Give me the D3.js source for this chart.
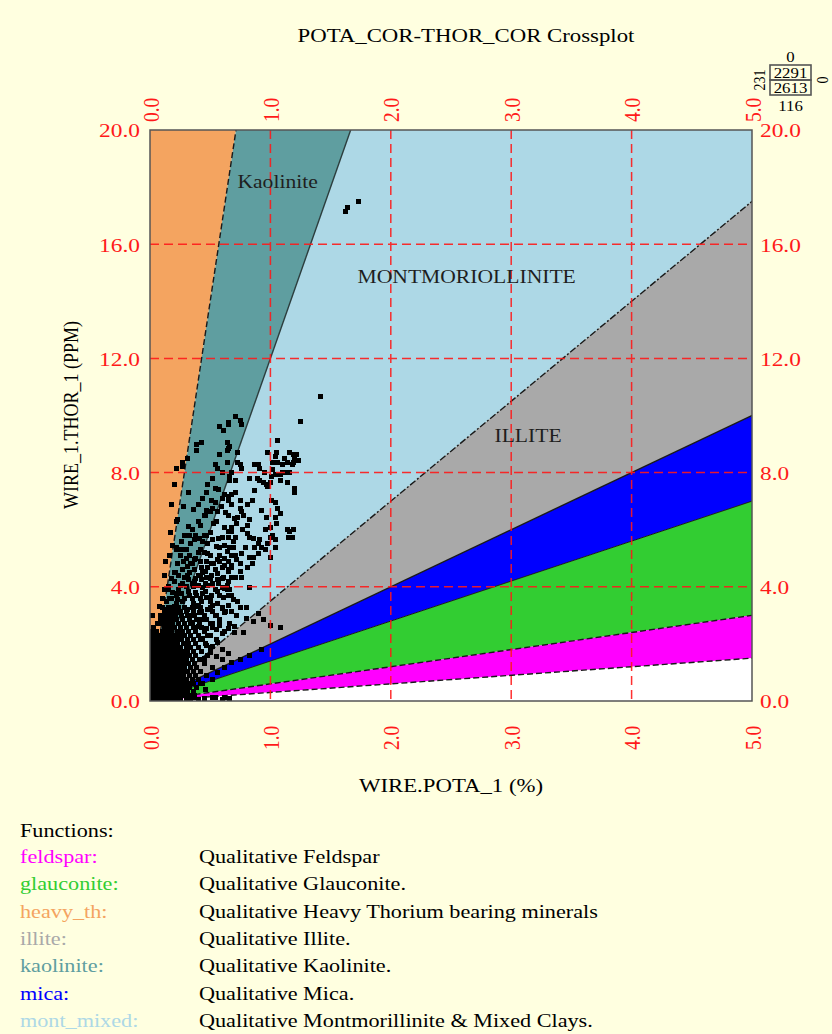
<!DOCTYPE html>
<html>
<head>
<meta charset="utf-8">
<script src="https://cdn.jsdelivr.net/npm/d3@7"></script>
<style>
  html, body { margin: 0; padding: 0; background: #FFFFE0; }
  svg { display: block; font-family: "Liberation Serif", "Times New Roman", serif; }
</style>
</head>
<body>
<svg id="chart" width="832" height="1034"></svg>
<script>
// ---- axis ticks ----
const potaTicks = [0, 1, 2, 3, 4, 5];          // WIRE.POTA_1 (%)
const thorTicks = [0, 4, 8, 12, 16, 20];       // WIRE_1.THOR_1 (PPM)

// ---- mineral zones, bounded by Th/K ratio lines through the origin ----
const zoneNames  = ["heavy_th", "kaolinite", "mont_mixed", "illite", "mica", "glauconite", "feldspar", "none"];
const zoneColors = ["#F4A460", "#5F9EA0", "#ADD8E6", "#A9A9A9", "#0000FF", "#32CD32", "#FF00FF", "#FFFFFF"];
// Th/K ratio of each zone boundary, from steepest to flattest
const boundaryRatios = [Infinity, 28, 12, 3.5, 2, 1.4, 0.6, 0.3, 0];
const boundaryDash   = [null, "6,3", null, "7,2,2,2", null, null, "6,3", "6,3", null];

// ---- zone captions inside the plot (K %, Th ppm) ----
const zoneCaptions = ["Kaolinite", "MONTMORIOLLINITE", "ILLITE"];
const captionK  = [1.06, 2.63, 3.14];
const captionTh = [18.2, 14.85, 9.3];

// ---- quadrant counts shown at the top right ----
const countTop = 0, countUpper = 2291, countLower = 2613, countBottom = 116, countLeft = 231, countRight = 0;

// ---- legend ----
const legendNames = ["feldspar:", "glauconite:", "heavy_th:", "illite:", "kaolinite:", "mica:", "mont_mixed:"];
const legendColors = ["#FF00FF", "#32CD32", "#F4A460", "#A9A9A9", "#5F9EA0", "#0000FF", "#ADD8E6"];
const legendText = [
  "Qualitative Feldspar",
  "Qualitative Glauconite.",
  "Qualitative Heavy Thorium bearing minerals",
  "Qualitative Illite.",
  "Qualitative Kaolinite.",
  "Qualitative Mica.",
  "Qualitative Montmorillinite & Mixed Clays."
];

// ---- samples: [POTA %, THOR ppm] ----
// isolated high-thorium readings
const outlierSamples = [
  [1.62, 17.13], [1.64, 17.27], [1.73, 17.48], [1.42, 10.65], [1.25, 9.79], [1.06, 9.12]
];
// upper branch, Th 6.3 - 10
const upperSamples = [
  [0.98, 8.72], [1.05, 8.72], [1.04, 8.55], [1.02, 8.37], [1.06, 8.34], [1.10, 8.27], [1.14, 8.37],
  [1.19, 8.62], [1.22, 8.62], [1.20, 8.51], [1.23, 8.44], [1.19, 8.37], [1.18, 8.27], [1.16, 8.02],
  [1.14, 7.99], [1.10, 8.02], [1.08, 7.92], [1.04, 7.92], [1.01, 7.85], [1.00, 7.67], [0.98, 7.50],
  [0.97, 7.57], [0.94, 7.67], [0.91, 7.74], [0.89, 7.81], [0.83, 7.81], [0.90, 8.27], [0.87, 8.27],
  [0.91, 8.16], [0.73, 8.37], [0.75, 8.27], [0.76, 8.16], [0.68, 8.02], [0.66, 7.74], [0.71, 7.74],
  [0.71, 7.32], [0.68, 7.22], [0.65, 7.04], [0.75, 7.04], [0.85, 7.04], [1.08, 7.74], [1.14, 7.67],
  [1.20, 7.46], [1.20, 7.32], [1.01, 7.04], [1.04, 6.94], [1.06, 6.76], [0.71, 9.95], [0.75, 9.84],
  [0.76, 9.67], [0.65, 9.74], [0.66, 8.90], [0.64, 8.79], [0.73, 8.69],
  [0.58, 9.60], [0.61, 9.49], [0.65, 9.67], [0.43, 9.07], [0.39, 8.97], [0.39, 8.79], [0.64, 9.04],
  [0.65, 8.86], [0.58, 8.62], [0.54, 8.27], [0.64, 8.37], [0.27, 8.37], [0.31, 8.51], [0.22, 8.16],
  [0.27, 8.20], [0.56, 8.16], [0.60, 8.02], [0.66, 7.85], [0.54, 6.94], [0.60, 7.11], [0.65, 7.15],
  [0.47, 7.32], [0.54, 7.46], [0.62, 7.22], [0.51, 7.04], [0.81, 6.87], [0.87, 7.39], [0.93, 6.69],
  [0.56, 6.62], [0.65, 6.51], [0.83, 6.34],
  [0.40, 6.90], [0.44, 7.10], [0.48, 7.60], [0.52, 7.80], [0.57, 7.40], [0.59, 6.80], [0.63, 6.60],
  [0.68, 6.90], [0.70, 6.40], [0.55, 6.30], [0.45, 6.50], [0.32, 7.30], [0.28, 6.80], [0.18, 6.90],
  [0.20, 7.60], [1.12, 8.50], [1.16, 8.70], [1.02, 8.10], [0.95, 8.00]
];
// middle branch, Th 3.3 - 6.8
const middleSamples = [
  [0.47, 6.69], [0.50, 6.62], [0.46, 6.51], [0.52, 6.76], [0.23, 6.34], [0.22, 6.27], [0.19, 5.46],
  [0.22, 5.36], [0.29, 4.34], [0.32, 4.24], [0.35, 4.13], [0.37, 4.17], [0.23, 3.78], [0.22, 3.71],
  [0.25, 4.06], [0.43, 4.66], [0.46, 4.52], [0.48, 4.69], [0.51, 4.83], [0.54, 4.59], [0.56, 4.48],
  [0.60, 4.66], [0.62, 4.76], [0.65, 4.87], [0.68, 5.11], [0.64, 5.22], [0.58, 5.11], [0.56, 4.94],
  [0.51, 4.41], [0.47, 4.34], [0.43, 4.24], [0.40, 4.06], [0.44, 3.99], [0.48, 4.06], [0.52, 4.13],
  [0.56, 4.24], [0.61, 4.34], [0.65, 4.52], [0.68, 4.66], [0.64, 4.06], [0.60, 3.96], [0.56, 3.82],
  [0.51, 3.71], [0.47, 3.61], [0.43, 3.47], [0.40, 3.36], [0.39, 3.71], [0.44, 3.78], [0.66, 3.89],
  [0.68, 4.31], [0.62, 5.46], [0.60, 5.71], [0.65, 5.74], [0.68, 5.92], [0.62, 6.06], [0.58, 5.36],
  [0.69, 5.39], [0.50, 3.47], [0.56, 3.43], [0.61, 3.61], [0.65, 3.71], [0.69, 3.54],
  [0.75, 6.76], [0.76, 6.62], [0.73, 6.44], [1.06, 6.76], [1.08, 6.58], [1.04, 6.41], [1.05, 6.23],
  [0.97, 6.44], [0.96, 5.99], [1.00, 6.06], [1.02, 5.81], [0.91, 5.64], [0.90, 5.53], [0.83, 5.71],
  [0.81, 5.88], [0.81, 6.16], [0.77, 5.99], [0.68, 6.06], [0.65, 5.92], [0.71, 5.71], [0.69, 5.57],
  [0.66, 5.39], [0.64, 5.22], [0.71, 5.11], [0.76, 5.18], [0.79, 5.36], [0.83, 5.01], [0.85, 4.83],
  [0.81, 4.69], [0.75, 4.83], [0.72, 4.94], [0.68, 4.76], [0.65, 4.59], [0.75, 4.52], [0.76, 4.34],
  [0.71, 4.31], [0.65, 4.17], [0.83, 3.99], [0.64, 3.89], [0.68, 3.71], [0.69, 3.54], [0.73, 3.47],
  [0.75, 3.26], [0.65, 3.36], [1.14, 5.99], [1.16, 5.92], [1.19, 5.99], [1.15, 5.74], [1.18, 5.71],
  [1.04, 5.36], [0.96, 5.29], [0.90, 5.18], [0.86, 5.04], [1.00, 5.71], [0.98, 5.53], [0.87, 5.36],
  [0.93, 5.39], [1.04, 5.64], [1.00, 5.01],
  [0.42, 6.16], [0.47, 5.81], [0.52, 5.64], [0.37, 5.64], [0.42, 5.29], [0.48, 5.18], [0.33, 5.11],
  [0.37, 4.94], [0.36, 6.70], [0.40, 6.30], [0.33, 5.80], [0.41, 5.70], [0.30, 5.00], [0.35, 4.80],
  [0.27, 4.60], [0.12, 4.40], [0.15, 3.90], [0.10, 3.60], [0.08, 3.30], [0.13, 4.90], [0.17, 5.90],
  [0.30, 5.30], [0.34, 5.50], [0.38, 5.00], [0.42, 4.90], [0.45, 5.20], [0.48, 5.50], [0.33, 4.50],
  [0.37, 4.60], [0.40, 4.40], [0.44, 4.50], [0.47, 4.90], [0.28, 4.90],
  [0.15, 4.00], [0.18, 3.60], [0.20, 4.20], [0.24, 3.90], [0.27, 3.50], [0.30, 4.00], [0.33, 3.70],
  [0.22, 3.40], [0.14, 3.50], [0.36, 3.40],
  [0.20, 4.50], [0.23, 4.80], [0.25, 5.10], [0.22, 5.30], [0.26, 5.60], [0.29, 5.80], [0.32, 6.10],
  [0.35, 6.00], [0.38, 5.80], [0.44, 5.60], [0.50, 5.90], [0.53, 6.20], [0.55, 5.40], [0.50, 5.10],
  [0.53, 4.80], [0.58, 4.90], [0.62, 5.00], [0.60, 4.30], [0.57, 4.10], [0.50, 4.30], [0.46, 4.10],
  [0.42, 4.40], [0.38, 4.30], [0.36, 4.00], [0.31, 4.40], [0.27, 4.10], [0.34, 4.80], [0.31, 4.70],
  [0.16, 5.10], [0.21, 4.50], [0.12, 3.90], [0.18, 4.30], [0.24, 4.40], [0.26, 5.30], [0.40, 5.20],
  [0.45, 5.80], [0.57, 5.70], [0.72, 6.20], [0.78, 6.50], [0.86, 5.70]
];
// Th 1.3 - 4 band, spreading right across the zone boundaries
const bandSamples = [
  [0.10, 2.90], [0.13, 3.20], [0.17, 3.00], [0.20, 3.30], [0.24, 3.10], [0.27, 2.90], [0.31, 3.20],
  [0.34, 3.00], [0.38, 3.30], [0.41, 3.10], [0.45, 2.90], [0.48, 3.20], [0.55, 3.00], [0.58, 2.80],
  [0.62, 3.10], [0.16, 3.60], [0.19, 3.80], [0.23, 3.55], [0.26, 3.75], [0.29, 3.60], [0.32, 3.85],
  [0.35, 3.60], [0.38, 3.80], [0.42, 3.60], [0.46, 3.85], [0.50, 3.60], [0.54, 3.90], [0.58, 3.70],
  [0.62, 3.95], [0.50, 2.30], [0.55, 2.50], [0.60, 2.35], [0.65, 2.55], [0.70, 2.40], [0.58, 2.65],
  [0.52, 2.70], [0.47, 2.55], [0.45, 1.50], [0.50, 1.70], [0.55, 1.55], [0.60, 1.80], [0.65, 1.65],
  [0.52, 1.90], [0.47, 1.95], [0.56, 2.05], [0.44, 2.20], [0.40, 2.60], [0.35, 2.75], [0.43, 2.85],
  [0.52, 3.35], [0.60, 3.25], [0.68, 3.15], [0.09, 3.00], [0.07, 2.70]
];
// readings spilling into the illite, mica, glauconite and feldspar zones
const lowRatioSamples = [
  [0.90, 3.05], [0.94, 2.84], [1.00, 2.66], [1.08, 2.56], [0.80, 2.90], [0.86, 2.80], [0.70, 2.60],
  [0.78, 2.40], [0.56, 1.00], [0.62, 1.19], [0.68, 1.36], [0.75, 1.44], [0.83, 1.61], [0.93, 1.79],
  [0.42, 0.63], [0.52, 0.74], [0.46, 0.39], [0.29, 0.21], [0.37, 0.14], [0.54, 0.14], [0.62, 0.14],
  [0.45, 0.08], [0.52, 0.12], [0.60, 0.06], [0.66, 0.10]
];
// dense low-K core: each row is [THOR, list of POTA readings at that level]
const coreRows = [
  [0.05, [0.01, 0.04, 0.07, 0.10, 0.13, 0.16, 0.19, 0.22, 0.25, 0.30, 0.34, 0.40]],
  [0.18, [0.01, 0.04, 0.07, 0.10, 0.13, 0.16, 0.19, 0.22, 0.26, 0.29, 0.33, 0.37]],
  [0.32, [0.02, 0.05, 0.08, 0.11, 0.14, 0.17, 0.20, 0.23, 0.27, 0.31, 0.36]],
  [0.46, [0.01, 0.04, 0.07, 0.10, 0.13, 0.16, 0.19, 0.22, 0.25, 0.29, 0.33, 0.39]],
  [0.60, [0.02, 0.05, 0.08, 0.11, 0.14, 0.17, 0.20, 0.24, 0.28, 0.32, 0.36, 0.44]],
  [0.74, [0.01, 0.04, 0.07, 0.10, 0.13, 0.16, 0.20, 0.23, 0.26, 0.30, 0.35, 0.40]],
  [0.88, [0.02, 0.05, 0.08, 0.11, 0.14, 0.17, 0.21, 0.25, 0.28, 0.33, 0.38, 0.47]],
  [1.02, [0.01, 0.04, 0.07, 0.10, 0.13, 0.17, 0.20, 0.24, 0.27, 0.31, 0.36, 0.42]],
  [1.16, [0.02, 0.05, 0.08, 0.11, 0.15, 0.18, 0.22, 0.25, 0.29, 0.34, 0.39, 0.52]],
  [1.30, [0.01, 0.04, 0.07, 0.11, 0.14, 0.17, 0.21, 0.24, 0.28, 0.32, 0.37, 0.45]],
  [1.44, [0.02, 0.05, 0.09, 0.12, 0.15, 0.19, 0.22, 0.26, 0.30, 0.35, 0.41, 0.60]],
  [1.58, [0.01, 0.04, 0.07, 0.10, 0.14, 0.17, 0.21, 0.25, 0.29, 0.33, 0.38, 0.48]],
  [1.72, [0.02, 0.05, 0.08, 0.12, 0.16, 0.19, 0.23, 0.27, 0.31, 0.36, 0.43]],
  [1.86, [0.01, 0.04, 0.07, 0.10, 0.14, 0.18, 0.21, 0.25, 0.30, 0.34, 0.40, 0.50]],
  [2.00, [0.02, 0.05, 0.09, 0.12, 0.16, 0.20, 0.23, 0.28, 0.32, 0.38, 0.46]],
  [2.14, [0.01, 0.04, 0.08, 0.11, 0.15, 0.18, 0.22, 0.26, 0.31, 0.36, 0.42, 0.55]],
  [2.28, [0.02, 0.06, 0.09, 0.13, 0.17, 0.21, 0.25, 0.29, 0.34, 0.40, 0.48]],
  [2.42, [0.01, 0.05, 0.10, 0.14, 0.18, 0.23, 0.27, 0.32, 0.38, 0.45, 0.62]],
  [2.56, [0.03, 0.12, 0.16, 0.20, 0.25, 0.30, 0.36, 0.43, 0.52]],
  [2.70, [0.06, 0.11, 0.15, 0.19, 0.24, 0.29, 0.34, 0.41, 0.50, 0.66]],
  [2.84, [0.09, 0.14, 0.18, 0.22, 0.27, 0.33, 0.39, 0.47, 0.58]],
  [2.98, [0.02, 0.13, 0.17, 0.21, 0.26, 0.31, 0.37, 0.45, 0.54, 0.72]],
  [3.12, [0.12, 0.16, 0.20, 0.25, 0.30, 0.36, 0.43, 0.52, 0.63]],
  [3.26, [0.10, 0.15, 0.19, 0.24, 0.29, 0.35, 0.42, 0.50, 0.60, 0.80]]
];

const samples = outlierSamples
  .concat(upperSamples, middleSamples, bandSamples, lowRatioSamples,
          coreRows.flatMap(([th, ks]) => ks.map(k => [k, th])));

// ---- layout ----
const W = 832, H = 1034;
const plot = { left: 150, right: 752, top: 130, bottom: 701 };
const SX = 1.2;                 // horizontal stretch of all lettering
const RED = "#FF1A1A";

const svg = d3.select("#chart");
const x = d3.scaleLinear().domain([0, 5]).range([plot.left, plot.right]);
const y = d3.scaleLinear().domain([0, 20]).range([plot.bottom, plot.top]);

svg.append("rect").attr("width", W).attr("height", H).attr("fill", "#FFFFE0");

const defs = svg.append("defs");
defs.append("clipPath").attr("id", "plotClip")
  .append("rect")
  .attr("x", plot.left).attr("y", plot.top)
  .attr("width", plot.right - plot.left).attr("height", plot.bottom - plot.top);

const inner = svg.append("g").attr("clip-path", "url(#plotClip)");

// direction of a Th/K ratio line in data units, extended far past the frame
const FAR = 1000;
function farPoint(r) {
  if (r === Infinity) return [0, FAR];
  const len = Math.hypot(1, r);
  return [FAR / len, FAR * r / len];
}

// zones
inner.selectAll("path.zone")
  .data(zoneNames.map((n, i) => ({ n, i })))
  .join("path")
  .attr("class", "zone")
  .attr("fill", d => zoneColors[d.i])
  .attr("d", d => {
    const a = farPoint(boundaryRatios[d.i]);
    const b = farPoint(boundaryRatios[d.i + 1]);
    return d3.line()([[x(0), y(0)], [x(a[0]), y(a[1])], [x(b[0]), y(b[1])]]) + "Z";
  });

// boundary lines between zones
const innerBounds = boundaryRatios.map((r, i) => ({ r, i })).filter(d => d.r !== Infinity && d.r !== 0);
inner.selectAll("line.bound")
  .data(innerBounds)
  .join("line")
  .attr("class", "bound")
  .attr("x1", x(0)).attr("y1", y(0))
  .attr("x2", d => x(farPoint(d.r)[0]))
  .attr("y2", d => y(farPoint(d.r)[1]))
  .attr("stroke", d => d.r === 12 ? "#2b3d3d" : "#1a1a1a")
  .attr("stroke-width", d => (d.r === 1.4 ? 1 : 1.4))
  .attr("stroke-dasharray", d => boundaryDash[d.i]);

// grid
const grid = svg.append("g").attr("stroke", RED).attr("stroke-width", 1.5)
  .attr("stroke-dasharray", "9,5").attr("opacity", 0.9);
grid.selectAll("line.gx").data(potaTicks.slice(1, -1)).join("line")
  .attr("x1", d => x(d)).attr("x2", d => x(d))
  .attr("y1", plot.top).attr("y2", plot.bottom);
grid.selectAll("line.gy").data(thorTicks.slice(1, -1)).join("line")
  .attr("y1", d => y(d)).attr("y2", d => y(d))
  .attr("x1", plot.left).attr("x2", plot.right);

// samples
const PT = 5;
inner.append("g").attr("shape-rendering", "crispEdges").selectAll("rect")
  .data(samples)
  .join("rect")
  .attr("x", d => Math.round(x(d[0]) - PT / 2))
  .attr("y", d => Math.round(y(d[1]) - PT / 2))
  .attr("width", PT).attr("height", PT)
  .attr("fill", "#000");

// zone captions
svg.append("g").selectAll("g")
  .data(zoneCaptions.map((t, i) => ({ t, i })))
  .join("g")
  .attr("transform", d => `translate(${x(captionK[d.i])},${y(captionTh[d.i])}) scale(${SX},1)`)
  .append("text")
  .attr("text-anchor", "middle").attr("dy", "0.35em")
  .attr("font-size", 18).attr("fill", "#1e1e1e")
  .text(d => d.t);

// frame
svg.append("rect")
  .attr("x", plot.left).attr("y", plot.top)
  .attr("width", plot.right - plot.left).attr("height", plot.bottom - plot.top)
  .attr("fill", "none").attr("stroke", "#555").attr("stroke-width", 1.5);

// axes
const fmt = d3.format(".1f");
function styleAxis(g) {
  g.select(".domain").remove();
  g.selectAll(".tick line").remove();
  g.selectAll("text").attr("fill", RED).attr("font-size", 19.5)
    .attr("font-family", "Liberation Serif, Times New Roman, serif");
}
svg.append("g").attr("transform", `translate(${plot.left},0)`)
  .call(d3.axisLeft(y).tickValues(thorTicks).tickFormat(fmt).tickSize(0))
  .call(styleAxis)
  .call(g => g.selectAll("text").attr("x", -10 / SX).attr("dy", "0.35em")
    .attr("transform", `scale(${SX},1)`).attr("text-anchor", "end"));
svg.append("g").attr("transform", `translate(${plot.right},0)`)
  .call(d3.axisRight(y).tickValues(thorTicks).tickFormat(fmt).tickSize(0))
  .call(styleAxis)
  .call(g => g.selectAll("text").attr("x", 8 / SX).attr("dy", "0.35em")
    .attr("transform", `scale(${SX},1)`).attr("text-anchor", "start"));
svg.append("g").attr("transform", `translate(0,${plot.top})`)
  .call(d3.axisTop(x).tickValues(potaTicks).tickFormat(fmt).tickSize(0))
  .call(styleAxis)
  .call(g => g.selectAll("text").attr("x", 8).attr("y", 0).attr("dy", "0.35em")
    .attr("transform", `scale(${SX},1) rotate(-90)`).attr("text-anchor", "start"));
svg.append("g").attr("transform", `translate(0,${plot.bottom})`)
  .call(d3.axisBottom(x).tickValues(potaTicks).tickFormat(fmt).tickSize(0))
  .call(styleAxis)
  .call(g => g.selectAll("text").attr("x", -49).attr("y", 0).attr("dy", "0.35em")
    .attr("transform", `scale(${SX},1) rotate(-90)`).attr("text-anchor", "start"));

// titles
function stretchedText(parent, tx, ty, txt, size, opts = {}) {
  const g = parent.append("g")
    .attr("transform", `translate(${tx},${ty}) scale(${SX},1)` + (opts.rotate ? ` rotate(${opts.rotate})` : ""));
  return g.append("text")
    .attr("text-anchor", opts.anchor || "middle")
    .attr("font-size", size)
    .attr("fill", opts.fill || "#000")
    .text(txt);
}
stretchedText(svg, 466, 42, "POTA_COR-THOR_COR Crossplot", 19);
stretchedText(svg, 451, 792, "WIRE.POTA_1 (%)", 19);
stretchedText(svg, 78, 415, "WIRE_1.THOR_1 (PPM)", 18, { rotate: -90 });

// quadrant count box
const cb = svg.append("g");
const boxX = 770, boxY = 65, boxW = 41, rowH = 15;
cb.append("rect").attr("x", boxX).attr("y", boxY).attr("width", boxW).attr("height", rowH)
  .attr("fill", "none").attr("stroke", "#555").attr("stroke-width", 1.6);
cb.append("rect").attr("x", boxX).attr("y", boxY + rowH).attr("width", boxW).attr("height", rowH)
  .attr("fill", "none").attr("stroke", "#555").attr("stroke-width", 1.6);
stretchedText(cb, boxX + boxW / 2, boxY + rowH - 2.5, countUpper, 14);
stretchedText(cb, boxX + boxW / 2, boxY + 2 * rowH - 2.5, countLower, 14);
stretchedText(cb, boxX + boxW / 2, boxY - 3, countTop, 14);
stretchedText(cb, boxX + boxW / 2, boxY + 2 * rowH + 16, countBottom, 14);
stretchedText(cb, boxX - 5, boxY + rowH, countLeft, 14, { rotate: -90 });
stretchedText(cb, boxX + boxW + 6, boxY + rowH, countRight, 14, { rotate: 90 });

// legend
const lg = svg.append("g");
stretchedText(lg, 20, 837, "Functions:", 18.5, { anchor: "start" });
legendNames.forEach((n, i) => {
  const by = 863 + i * 27.3;
  stretchedText(lg, 20, by, n, 18.5, { anchor: "start", fill: legendColors[i] });
  stretchedText(lg, 199, by, legendText[i], 18.5, { anchor: "start" });
});
</script>
</body>
</html>
